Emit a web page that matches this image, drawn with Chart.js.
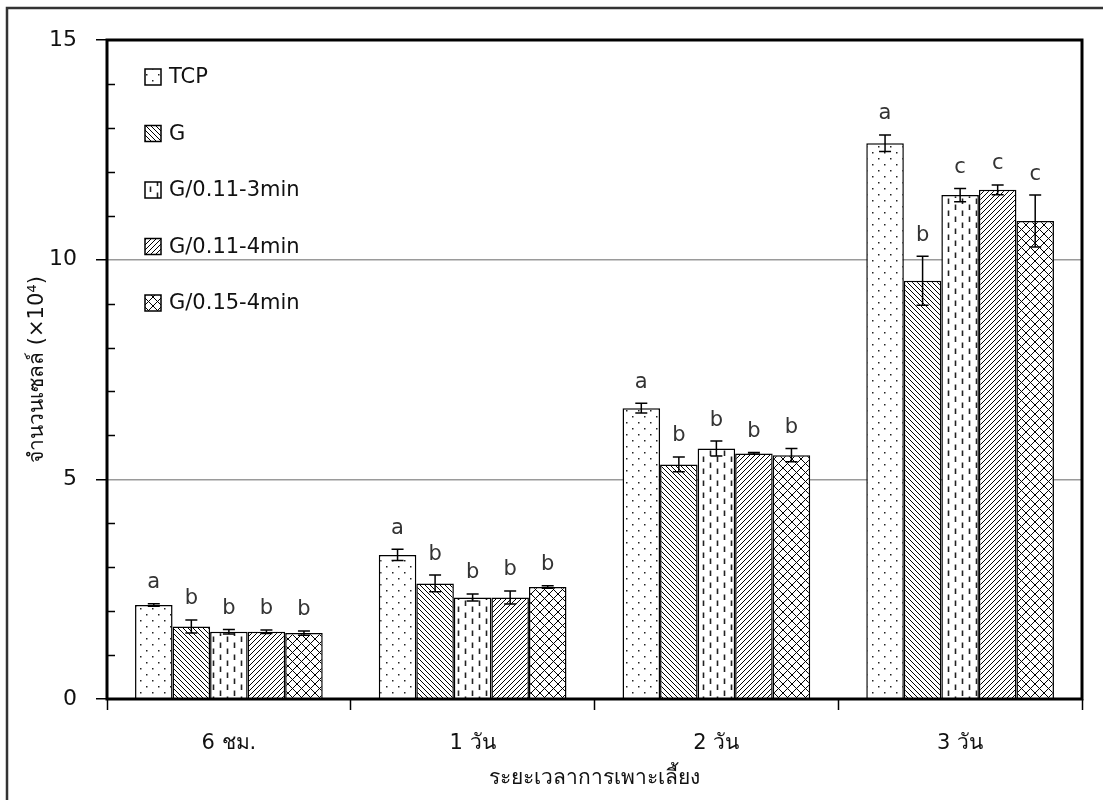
<!DOCTYPE html>
<html>
<head>
<meta charset="utf-8">
<script src="https://cdn.jsdelivr.net/npm/chart.js@4"></script>
<style>
  body { margin: 0; background: #fff; }
</style>
</head>
<body>
<canvas id="cellChart" width="1103" height="800"></canvas>
<script>
// ข้อมูลจากกราฟ
var categories = ['6 ชม.', '1 วัน', '2 วัน', '3 วัน'];
var seriesNames = ['TCP', 'G', 'G/0.11-3min', 'G/0.11-4min', 'G/0.15-4min'];

var tcp = [2.14, 3.28, 6.62, 12.65];
var g = [1.65, 2.63, 5.34, 9.52];
var g113 = [1.53, 2.31, 5.70, 11.47];
var g114 = [1.53, 2.31, 5.59, 11.59];
var g154 = [1.50, 2.55, 5.55, 10.88];

var tcpErr = [0.03, 0.13, 0.11, 0.19];
var gErr = [0.15, 0.19, 0.17, 0.56];
var g113Err = [0.05, 0.08, 0.17, 0.15];
var g114Err = [0.04, 0.15, 0.02, 0.11];
var g154Err = [0.05, 0.03, 0.15, 0.59];

var tcpLetters = ['a', 'a', 'a', 'a'];
var gLetters = ['b', 'b', 'b', 'b'];
var g113Letters = ['b', 'b', 'b', 'c'];
var g114Letters = ['b', 'b', 'b', 'c'];
var g154Letters = ['b', 'b', 'b', 'c'];

var yTicks = [0, 5, 10, 15];

// ลวดลายของแท่ง
function makePattern(w, h, draw) {
	var c = document.createElement('canvas');
	c.width = w;
	c.height = h;
	var p = c.getContext('2d');
	p.fillStyle = '#fff';
	p.fillRect(0, 0, w, h);
	p.strokeStyle = '#000';
	p.fillStyle = '#000';
	draw(p);
	return p.createPattern(c, 'repeat');
}

var dotPattern = makePattern(12, 12, function(p) {
	p.fillStyle = '#222';
	p.fillRect(2, 2, 1.5, 1.5);
	p.fillRect(8, 8, 1.5, 1.5);
});
var backPattern = makePattern(5, 5, function(p) {
	p.lineWidth = 1;
	p.beginPath();
	p.moveTo(-1, -1); p.lineTo(6, 6);
	p.moveTo(-1, 4); p.lineTo(1, 6);
	p.moveTo(4, -1); p.lineTo(6, 1);
	p.stroke();
});
var dashPattern = makePattern(14, 12, function(p) {
	p.lineWidth = 1.6;
	p.strokeStyle = '#222';
	p.beginPath();
	p.moveTo(3.5, 0.5); p.lineTo(3.5, 6);
	p.moveTo(10.5, 6.5); p.lineTo(10.5, 12);
	p.stroke();
});
var fwdPattern = makePattern(5, 5, function(p) {
	p.lineWidth = 1;
	p.beginPath();
	p.moveTo(-1, 6); p.lineTo(6, -1);
	p.moveTo(-1, 1); p.lineTo(1, -1);
	p.moveTo(4, 6); p.lineTo(6, 4);
	p.stroke();
});
var crossPattern = makePattern(9, 9, function(p) {
	p.lineWidth = 1;
	p.beginPath();
	p.moveTo(0, 0); p.lineTo(9, 9);
	p.moveTo(9, 0); p.lineTo(0, 9);
	p.stroke();
});

var patterns = [dotPattern, backPattern, dashPattern, fwdPattern, crossPattern];
var values = [tcp, g, g113, g114, g154];
var errors = [tcpErr, gErr, g113Err, g114Err, g154Err];
var letters = [tcpLetters, gLetters, g113Letters, g114Letters, g154Letters];

var fontFamily = "'DejaVu Sans', Tahoma, sans-serif";

var datasets = [];
for (var i = 0; i < seriesNames.length; i++) {
	datasets.push({
		label: seriesNames[i],
		data: values[i],
		errors: errors[i],
		letters: letters[i],
		backgroundColor: patterns[i],
		borderColor: '#000',
		borderWidth: 1.5,
		categoryPercentage: 0.77,
		barPercentage: 1.0
	});
}

// error bar + ตัวอักษร + กรอบ + legend
var extras = {
	id: 'extras',
	afterDatasetsDraw: function(chart) {
		var ctx = chart.ctx;
		var yScale = chart.scales.y;
		ctx.save();
		ctx.strokeStyle = '#000';
		ctx.lineWidth = 1.5;
		ctx.fillStyle = '#333';
		ctx.font = '21px ' + fontFamily;
		ctx.textAlign = 'center';
		ctx.textBaseline = 'middle';
		chart.data.datasets.forEach(function(ds, di) {
			var meta = chart.getDatasetMeta(di);
			meta.data.forEach(function(bar, j) {
				var v = ds.data[j];
				var e = ds.errors[j];
				var yTop = yScale.getPixelForValue(v + e);
				var yBot = yScale.getPixelForValue(v - e);
				ctx.beginPath();
				ctx.moveTo(bar.x, yTop); ctx.lineTo(bar.x, yBot);
				ctx.moveTo(bar.x - 6, yTop); ctx.lineTo(bar.x + 6, yTop);
				ctx.moveTo(bar.x - 6, yBot); ctx.lineTo(bar.x + 6, yBot);
				ctx.stroke();
				ctx.fillText(ds.letters[j], bar.x, yTop - 21);
			});
		});
		ctx.restore();
	},
	afterDraw: function(chart) {
		var ctx = chart.ctx;
		var a = chart.chartArea;
		var yScale = chart.scales.y;
		ctx.save();
		// minor ticks ด้านใน
		ctx.strokeStyle = '#000';
		ctx.lineWidth = 1.5;
		ctx.beginPath();
		for (var v = 1; v < 15; v++) {
			if (v % 5 === 0) continue;
			var y = Math.round(yScale.getPixelForValue(v)) + 0.5;
			ctx.moveTo(a.left, y);
			ctx.lineTo(a.left + 8, y);
		}
		ctx.stroke();
		// กรอบพื้นที่กราฟ
		ctx.lineWidth = 3;
		ctx.strokeRect(a.left, a.top, a.right - a.left, a.bottom - a.top);
		// กรอบด้านนอก
		ctx.strokeStyle = '#333';
		ctx.lineWidth = 2.5;
		ctx.beginPath();
		ctx.moveTo(7, 800); ctx.lineTo(7, 8); ctx.lineTo(1103, 8);
		ctx.stroke();
		// legend
		ctx.font = '21px ' + fontFamily;
		ctx.textAlign = 'left';
		ctx.textBaseline = 'middle';
		chart.data.datasets.forEach(function(ds, di) {
			var cy = a.top + 37 + di * 56.5;
			var bx = a.left + 38;
			ctx.fillStyle = ds.backgroundColor;
			ctx.fillRect(bx, cy - 8, 16, 16);
			ctx.lineWidth = 1.5;
			ctx.strokeStyle = '#000';
			ctx.strokeRect(bx, cy - 8, 16, 16);
			ctx.fillStyle = '#111';
			ctx.fillText(ds.label, bx + 24, cy + 1);
		});
		ctx.restore();
	}
};

var chartArea = document.getElementById('cellChart').getContext('2d');
var myChart = new Chart(chartArea, {
	type: 'bar',
	data: {
		labels: categories,
		datasets: datasets
	},
	options: {
		responsive: false,
		animation: false,
		layout: {
			padding: { left: 0, top: 40, right: 21, bottom: 0 }
		},
		plugins: {
			legend: { display: false },
			tooltip: { enabled: false }
		},
		scales: {
			x: {
				afterFit: function(s) { s.height = 101; },
				border: { display: false },
				grid: {
					offset: true,
					drawOnChartArea: false,
					tickLength: 11,
					tickColor: '#000',
					tickWidth: 1.5
				},
				ticks: {
					color: '#111',
					padding: 21,
					font: { family: fontFamily, size: 21 }
				},
				title: {
					display: true,
					text: 'ระยะเวลาการเพาะเลี้ยง',
					color: '#111',
					padding: { top: 0, bottom: 9 },
					font: { family: fontFamily, size: 21 }
				}
			},
			y: {
				min: 0,
				max: 15,
				afterFit: function(s) { s.width = 107; },
				afterBuildTicks: function(s) {
					s.ticks = yTicks.map(function(v) { return { value: v }; });
				},
				border: { display: false },
				grid: {
					color: function(c) {
						return (c.tick && (c.tick.value === 5 || c.tick.value === 10)) ? '#9a9a9a' : 'rgba(0,0,0,0)';
					},
					lineWidth: 1.5,
					tickLength: 11,
					tickColor: '#000',
					tickWidth: 1.5
				},
				ticks: {
					color: '#111',
					padding: 19,
					font: { family: fontFamily, size: 22 }
				},
				title: {
					display: true,
					text: 'จำนวนเซลล์ (×10⁴)',
					color: '#111',
					padding: { top: 25, bottom: 0 },
					font: { family: fontFamily, size: 21 }
				}
			}
		}
	},
	plugins: [extras]
});
</script>
</body>
</html>
